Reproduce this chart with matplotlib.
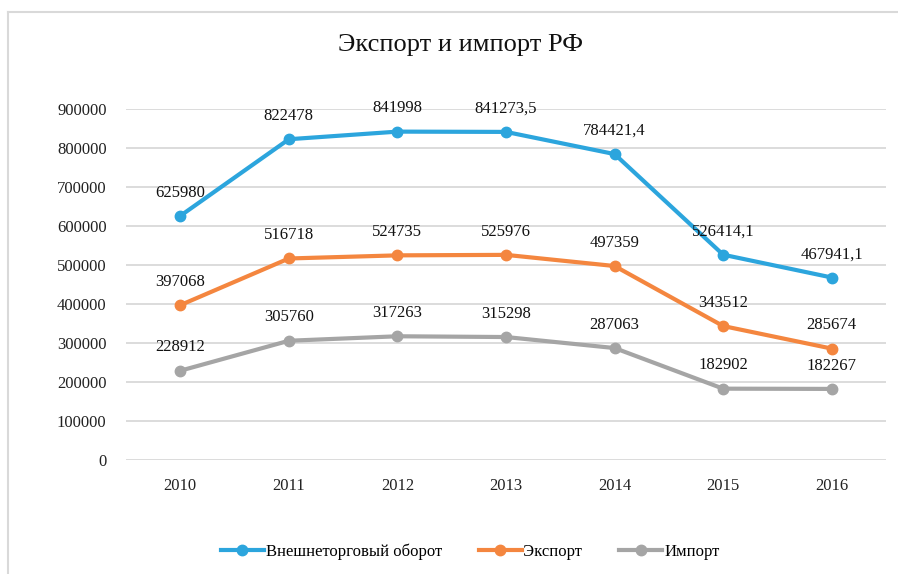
import matplotlib
matplotlib.use("Agg")
import matplotlib.pyplot as plt
from matplotlib.lines import Line2D

years = ["2010", "2011", "2012", "2013", "2014", "2015", "2016"]
turnover = [625980, 822478, 841998, 841273.5, 784421.4, 526414.1, 467941.1]
export = [397068, 516718, 524735, 525976, 497359, 343512, 285674]
imports = [228912, 305760, 317263, 315298, 287063, 182902, 182267]

turnover_lbl = ["625980", "822478", "841998", "841273,5", "784421,4", "526414,1", "467941,1"]
export_lbl = [str(v) for v in export]
import_lbl = [str(v) for v in imports]

series = [
    ("Внешнеторговый оборот", turnover, turnover_lbl, "#2CA5DD"),
    ("Экспорт", export, export_lbl, "#F4863F"),
    ("Импорт", imports, import_lbl, "#A5A5A5"),
]

plt.rcParams["font.family"] = ["Liberation Serif", "DejaVu Serif"]

fig = plt.figure(figsize=(8.98, 5.74), dpi=100)
ax = fig.add_axes([126 / 898, 1 - 460 / 574, 760 / 898, 351 / 574])

x = list(range(len(years)))
for name, vals, lbls, col in series:
    ax.plot(x, vals, color=col, lw=3.0, marker="o", ms=7.5,
            solid_capstyle="round", label=name, zorder=3)
    for xi, v, t in zip(x, vals, lbls):
        ax.annotate(t, (xi, v), xytext=(0, 11), textcoords="offset points",
                    ha="center", va="bottom", fontsize=12, color="#111111")

ax.set_xlim(-0.5, len(years) - 0.5)
ax.set_ylim(0, 900000)
ax.set_yticks(range(0, 900001, 100000))
ax.set_xticks(x)
ax.set_xticklabels(years)
ax.tick_params(length=0, labelsize=12, colors="#222222")
ax.tick_params(axis="y", pad=14)
ax.tick_params(axis="x", pad=13)
ax.grid(axis="y", color="#D9D9D9", lw=1.3)
ax.set_axisbelow(True)
for s in ax.spines.values():
    s.set_visible(False)

fig.text(460 / 898, 1 - 45 / 574, "Экспорт и импорт РФ", ha="center",
         va="center", fontsize=19, color="#111111")

handles = [Line2D([], [], color=c, lw=3.0, marker="o", ms=7.5) for _, _, _, c in series]
fig.legend(handles, [s[0] for s in series], loc="center",
           bbox_to_anchor=(470 / 898, 1 - 552 / 574), ncol=3, frameon=False,
           fontsize=12, handlelength=2.6, handletextpad=0.1, columnspacing=2.2)

# chart frame (top and left edges visible)
fig.add_artist(Line2D([8 / 898, 8 / 898], [0, 1 - 12 / 574],
                      transform=fig.transFigure, color="#D9D9D9", lw=1.5))
fig.add_artist(Line2D([8 / 898, 1], [1 - 12 / 574, 1 - 12 / 574],
                      transform=fig.transFigure, color="#D9D9D9", lw=1.5))

fig.savefig("out.png", dpi=100)
